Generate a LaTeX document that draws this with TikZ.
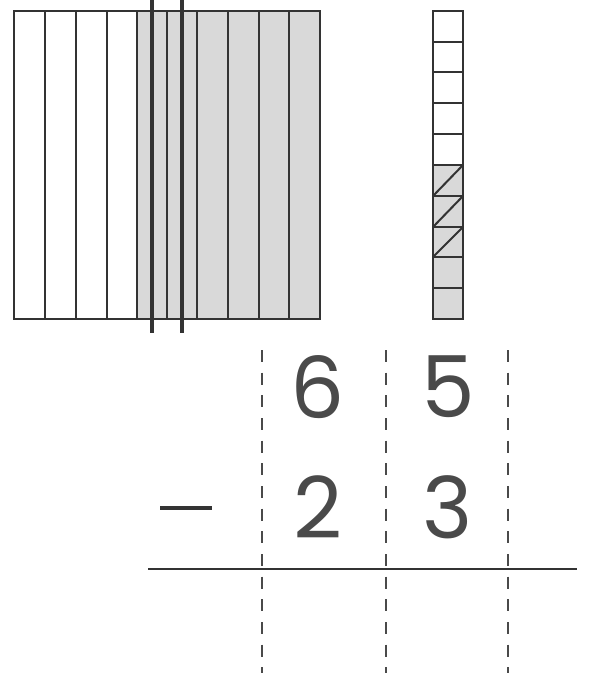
\documentclass[tikz,border=0pt]{standalone}
\usepackage{fontspec}
\usepackage{tikz}
\newfontfamily\digitfont{Poppins}
\definecolor{ink}{HTML}{333333}
\definecolor{rodgray}{HTML}{D9D9D9}
\definecolor{numgray}{HTML}{4A4A4A}

\begin{document}
\begin{tikzpicture}[x=0.75pt, y=-0.75pt,
  grid/.style={draw=ink, line width=1.5pt},
  cut/.style={draw=ink, line width=2.8pt},
  guide/.style={draw=numgray, line width=1.5pt, dash pattern=on 9pt off 8pt},
  digit/.style={text=numgray, inner sep=0pt,
                font=\digitfont\fontsize{64}{64}\selectfont}]
  \useasboundingbox (0,0) rectangle (590,679);
  % tens block: ten rods, six shaded
  \fill[rodgray] (137,11) rectangle (320,319);
  \foreach \x in {45,76,107,137,167,197,228,259,289}
    {\draw[grid] (\x,11) -- (\x,319);}
  \draw[grid] (14,11) rectangle (320,319);
  \draw[cut] (152,0) -- (152,333);
  \draw[cut] (182,0) -- (182,333);
  % ones rod: ten cells, five shaded, three crossed
  \fill[rodgray] (433,165) rectangle (463,319);
  \foreach \y in {42,72,103,134,165,196,227,257,288}
    {\draw[grid] (433,\y) -- (463,\y);}
  \foreach \a/\b in {165/196,196/227,227/257}
    {\draw[grid] (433,\b) -- (463,\a);}
  \draw[grid] (433,11) rectangle (463,319);
  % column guides and sum
  \foreach \x in {262,386,508}
    {\draw[guide] (\x,350) -- (\x,673);}
  \node[digit] (t1) at (318,387) {6};
  \node[digit] (o1) at (448,387) {5};
  \node[digit] (t2) at (318,507) {2};
  \node[digit] (o2) at (448,507) {3};
  \draw[ink, line width=2.4pt] (160,508) -- (212,508);
  \draw[ink, line width=1.8pt] (148,569) -- (577,569);
\end{tikzpicture}
\end{document}
